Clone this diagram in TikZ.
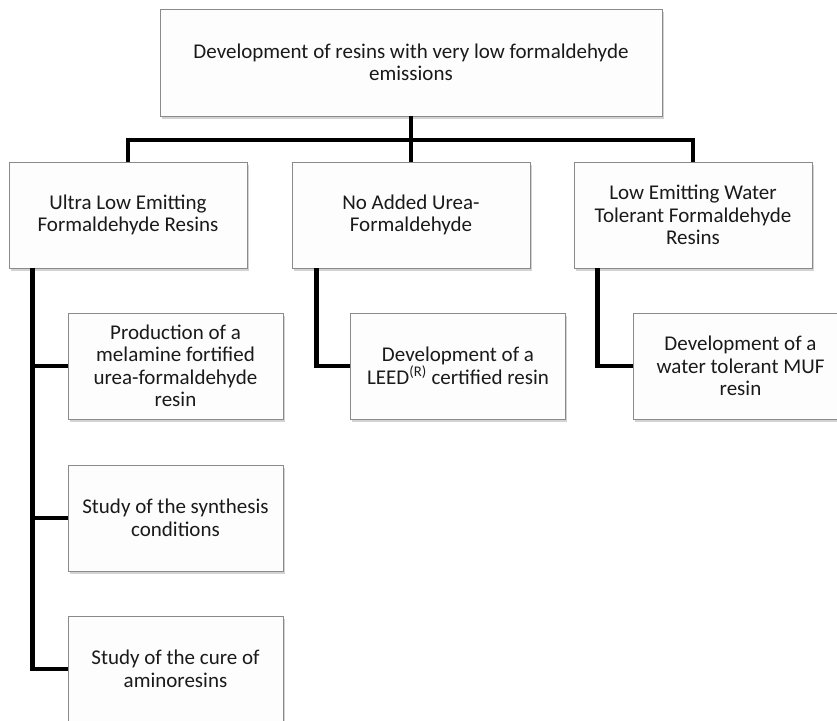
\documentclass[tikz,border=0pt]{standalone}
\usepackage{fontspec}
\setmainfont{Carlito}
\usetikzlibrary{shadows}
\definecolor{boxline}{HTML}{8A8A8A}
\definecolor{boxfill}{HTML}{FDFDFD}
\definecolor{txt}{HTML}{1A1A1A}
\tikzset{
  box/.style={draw=boxline, line width=0.9pt, fill=boxfill, text=txt,
    align=center, font=\fontsize{21}{22.5}\selectfont, inner sep=0pt,
    drop shadow={opacity=0.35, shadow xshift=1.5pt, shadow yshift=-3pt}},
  topbox/.style={box, minimum width=502pt, minimum height=107pt},
  lvone/.style={box, minimum width=238pt, minimum height=106pt},
  lvtwo/.style={box, minimum width=215pt, minimum height=106pt},
  conn/.style={line width=4.5pt, black}
}
\begin{document}
\begin{tikzpicture}[x=1pt, y=-1pt]
\useasboundingbox (0,0) rectangle (837,720);
\node[topbox] (top) at (411,62.5) {Development of resins with very low formaldehyde\\emissions};
\node[lvone] (l1a) at (128,215) {Ultra Low Emitting\\Formaldehyde Resins};
\node[lvone] (l1b) at (411,215) {No Added Urea-\\Formaldehyde};
\node[lvone] (l1c) at (693,215) {Low Emitting Water\\Tolerant Formaldehyde\\Resins};
\node[lvtwo] (c1) at (175.5,366) {Production of a\\melamine fortified\\urea-formaldehyde\\resin};
\node[lvtwo] (c2) at (175.5,518) {Study of the synthesis\\conditions};
\node[lvtwo] (c3) at (175.5,669) {Study of the cure of\\aminoresins};
\node[lvtwo] (m1) at (458,366) {Development of a\\LEED\textsuperscript{(R)} certified resin};
\node[lvtwo] (r1) at (740.5,366) {Development of a\\water tolerant MUF\\resin};
\coordinate (bar) at (0,140);
\coordinate (ja) at ([xshift=24pt]l1a.south west);
\coordinate (jb) at ([xshift=25pt]l1b.south west);
\coordinate (jc) at ([xshift=24pt]l1c.south west);
\draw[conn] (top.south) -- (l1b.north);
\draw[conn] (l1a.north) -- (l1a.north |- bar) -- (l1c.north |- bar) -- (l1c.north);
\draw[conn] (ja) -- (ja |- c3.west) -- (c3.west);
\draw[conn] (ja |- c1.west) -- (c1.west);
\draw[conn] (ja |- c2.west) -- (c2.west);
\draw[conn] (jb) -- (jb |- m1.west) -- (m1.west);
\draw[conn] (jc) -- (jc |- r1.west) -- (r1.west);
\end{tikzpicture}
\end{document}
